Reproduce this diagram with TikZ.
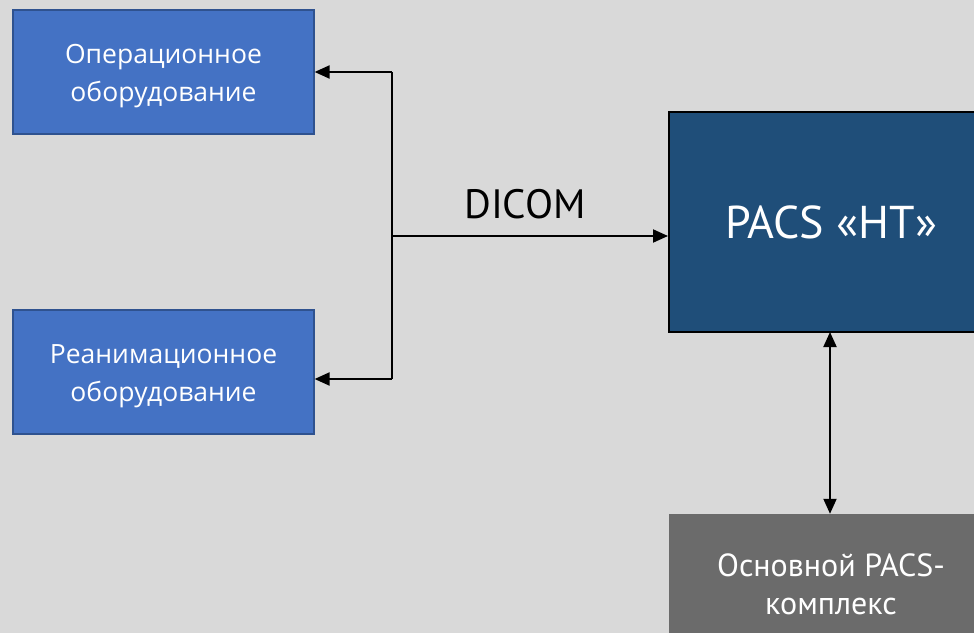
\documentclass[tikz,border=0pt]{standalone}
\usepackage{fontspec}
\setmainfont{PT Sans}
\newfontfamily\leftfont{Open Sans}
\usetikzlibrary{arrows.meta,calc}
\definecolor{bg}{HTML}{D9D9D9}
\definecolor{blueA}{HTML}{4472C4}
\definecolor{blueB}{HTML}{2F528F}
\definecolor{navy}{HTML}{1F4E79}
\definecolor{greyA}{HTML}{6B6B6B}
\tikzset{
  equipbox/.style={draw=blueB, line width=1.2bp, fill=blueA, inner sep=0pt,
    minimum width=301bp, minimum height=124bp},
  equiptext/.style={text=white, inner sep=0pt, align=center, font=\leftfont\fontsize{26.5bp}{38bp}\selectfont},
  pacsbox/.style={draw=black, line width=2bp, fill=navy, text=white, inner sep=0pt,
    minimum width=324bp, minimum height=220bp, align=center, font=\fontsize{46bp}{52bp}\selectfont},
  mainbox/.style={fill=greyA, text=white, inner sep=0pt,
    minimum width=324bp, minimum height=140bp, align=center, font=\fontsize{32bp}{38bp}\selectfont},
  conn/.style={line width=2bp, draw=black},
  tip/.style={-{Triangle[length=15bp,width=13bp]}},
  lbltext/.style={text=black, inner sep=0pt, font=\fontsize{41bp}{48bp}\selectfont},
}
\begin{document}
\begin{tikzpicture}[x=1bp,y=-1bp]
\fill[bg] (0,0) rectangle (974,633);
\useasboundingbox (0,0) rectangle (974,633);
\begin{scope}
\clip (0,0) rectangle (974,633);
\node[equipbox] (op) at (163.5,72) {};
\node[equiptext] (optext) at ($(op.center)+(0,4)$) {Операционное\\оборудование};
\node[equipbox] (re) at (163.5,372) {};
\node[equiptext] (retext) at ($(re.center)+(0,4)$) {Реанимационное\\оборудование};
\node[pacsbox] (pacs) at (831,222) {\raisebox{-4bp}{PACS «НТ»}};
\node[mainbox] (main) at (831,584) {Основной PACS-\\комплекс};
\coordinate (jt) at (392,72);
\coordinate (jb) at (392,379);
\coordinate (jm) at (392,236);
\draw[conn] (jt) -- (jb);
\draw[conn,tip] (jt) -- (op.east);
\draw[conn,tip] (jb) -- (jb -| re.east);
\draw[conn,tip] (jm) -- (jm -| pacs.west) node[midway, yshift=32bp, xshift=-5bp, lbltext] (lbl) {DICOM};
\draw[conn,{Triangle[length=15bp,width=13bp]}-{Triangle[length=15bp,width=13bp]}] (830,332) coordinate (vt) -- (vt |- main.north);
\end{scope}
\end{tikzpicture}
\end{document}
